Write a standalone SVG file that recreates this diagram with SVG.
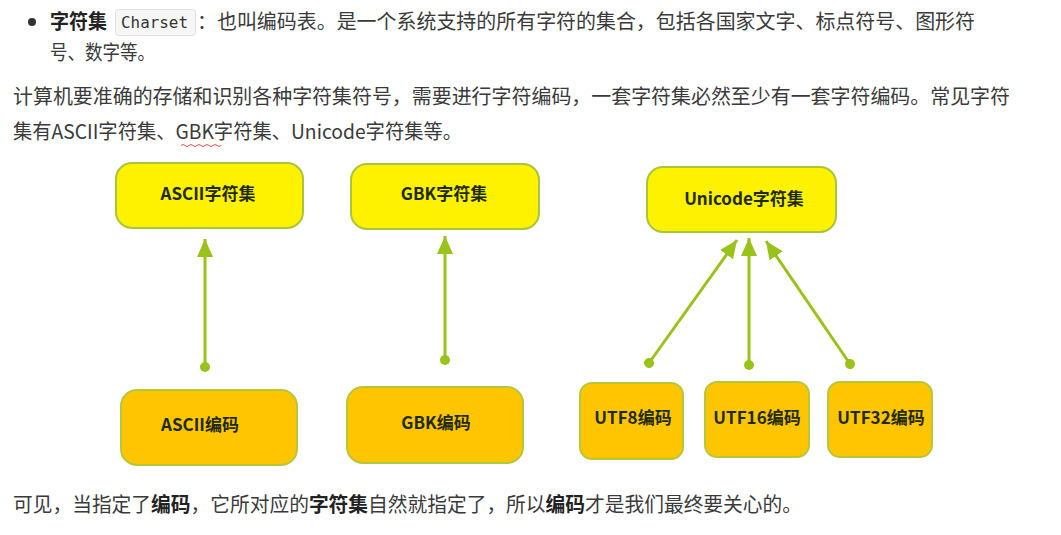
<svg xmlns="http://www.w3.org/2000/svg" width="1061" height="535" viewBox="0 0 1061 535">
<style>
.body{font-family:"Noto Sans CJK SC","Noto Sans",sans-serif;font-size:20px;fill:#3a3a3a}
.b{font-weight:bold;fill:#222}
.top rect{fill:#FFF200;stroke:#A9C53A;stroke-width:2}
.bot rect{fill:#FFC600;stroke:#B5C83A;stroke-width:2}
.lbl{font-family:"Noto Sans CJK SC","Noto Sans",sans-serif;font-size:17px;font-weight:bold;fill:#1E2A0C;text-anchor:middle}
.conn line{stroke:#99C21A;stroke-width:3;marker-end:url(#ah);marker-start:url(#dot)}
</style>
<defs>
<marker id="ah" markerUnits="userSpaceOnUse" markerWidth="20" markerHeight="16" refX="18" refY="8" orient="auto">
<path d="M0,0 L18,8 L0,16 Z" fill="#99C21A"/>
</marker>
<marker id="dot" markerUnits="userSpaceOnUse" markerWidth="12" markerHeight="12" refX="6" refY="6" orient="auto">
<circle cx="6" cy="6" r="5" fill="#99C21A"/>
</marker>
</defs>
<rect width="1061" height="535" fill="#ffffff"/>
<g id="intro">
<circle cx="32" cy="22" r="4" fill="#333"/>
<text class="body b" x="50" y="29" textLength="57" lengthAdjust="spacingAndGlyphs">字符集</text>
<rect x="115.5" y="9.5" width="80" height="26" rx="3" fill="#f6f6f6" stroke="#e0e0e0"/>
<text x="121" y="28" font-family="'DejaVu Sans Mono','Liberation Mono',monospace" font-size="15" fill="#333" textLength="67" lengthAdjust="spacingAndGlyphs">Charset</text>
<text class="body" x="197" y="29" textLength="778" lengthAdjust="spacingAndGlyphs">：也叫编码表。是一个系统支持的所有字符的集合，包括各国家文字、标点符号、图形符</text>
<text class="body" x="50" y="60" textLength="105" lengthAdjust="spacingAndGlyphs">号、数字等。</text>
<text class="body" x="13" y="104" textLength="997" lengthAdjust="spacingAndGlyphs">计算机要准确的存储和识别各种字符集符号，需要进行字符编码，一套字符集必然至少有一套字符编码。常见字符</text>
<text class="body" x="13" y="139" textLength="449" lengthAdjust="spacingAndGlyphs">集有ASCII字符集、GBK字符集、Unicode字符集等。</text>
<path d="M181,145.5 q2,-2 4,0 t4,0 t4,0 t4,0 t4,0 t4,0 t4,0 t4,0 t4,0 t4,0" fill="none" stroke="#e05050" stroke-width="1"/>
</g>
<g class="conn" id="connectors">
<line x1="205" y1="367" x2="205" y2="239"/>
<line x1="445" y1="360" x2="445" y2="236"/>
<line x1="649" y1="363" x2="737" y2="240"/>
<line x1="749" y1="365" x2="749" y2="238"/>
<line x1="850" y1="364" x2="766" y2="241"/>
</g>
<g class="top" id="ascii-set"><rect x="116" y="163" width="187" height="65" rx="16"/><text class="lbl" x="208" y="200">ASCII字符集</text></g>
<g class="top" id="gbk-set"><rect x="351" y="164" width="188" height="65" rx="16"/><text class="lbl" x="444" y="200">GBK字符集</text></g>
<g class="top" id="unicode-set"><rect x="647" y="167" width="189" height="65" rx="16"/><text class="lbl" x="744" y="205">Unicode字符集</text></g>
<g class="bot" id="ascii-enc"><rect x="121" y="390" width="176" height="75" rx="16"/><text class="lbl" x="200" y="431">ASCII编码</text></g>
<g class="bot" id="gbk-enc"><rect x="347" y="387" width="176" height="76" rx="16"/><text class="lbl" x="436" y="429">GBK编码</text></g>
<g class="bot" id="utf8-enc"><rect x="580" y="383" width="103" height="76" rx="12"/><text class="lbl" x="633" y="424">UTF8编码</text></g>
<g class="bot" id="utf16-enc"><rect x="705" y="382" width="104" height="75" rx="12"/><text class="lbl" x="757" y="424">UTF16编码</text></g>
<g class="bot" id="utf32-enc"><rect x="828" y="382" width="104" height="75" rx="12"/><text class="lbl" x="881" y="424">UTF32编码</text></g>
<g id="outro">
<text class="body" x="13" y="512" textLength="789" lengthAdjust="spacingAndGlyphs">可见，当指定了<tspan class="b">编码</tspan>，它所对应的<tspan class="b">字符集</tspan>自然就指定了，所以<tspan class="b">编码</tspan>才是我们最终要关心的。</text>
</g>
</svg>
